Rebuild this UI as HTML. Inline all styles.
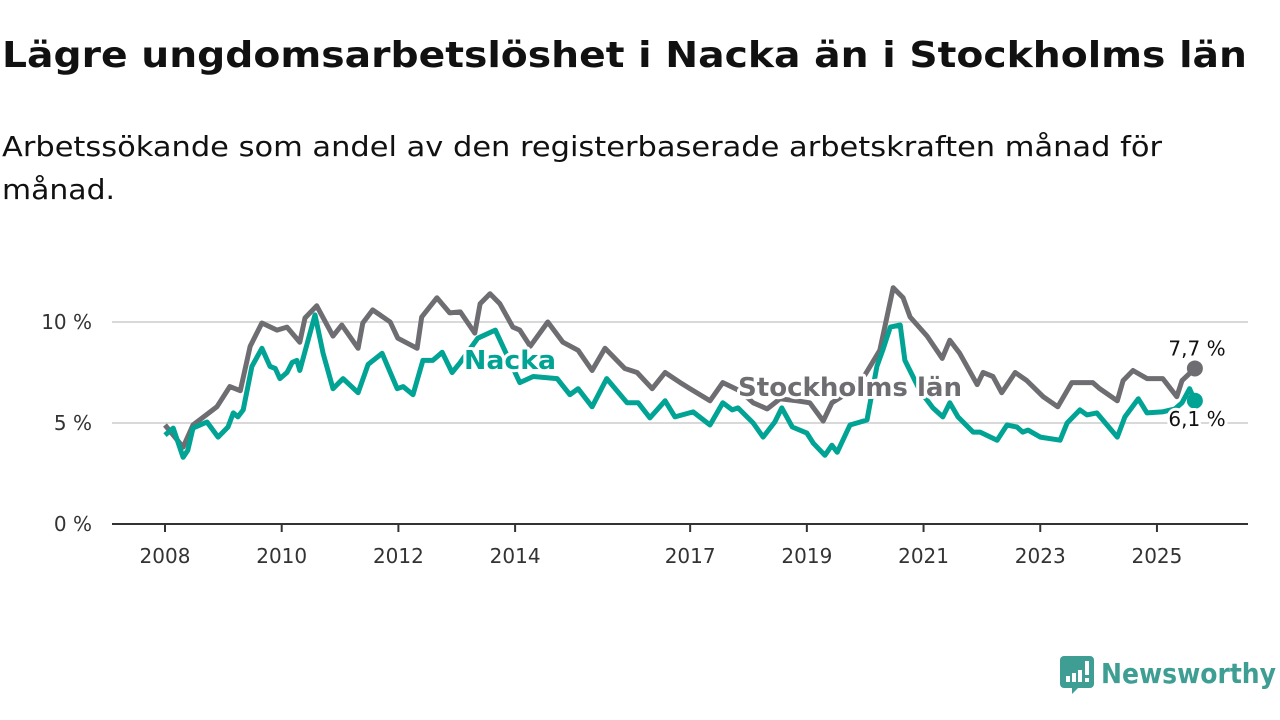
<!DOCTYPE html>
<html><head><meta charset="utf-8"><style>
html,body{margin:0;padding:0;background:#fff;}
svg{display:block;font-family:"DejaVu Sans","Liberation Sans",sans-serif;}
</style></head><body>
<svg id="chart" width="1280" height="720" viewBox="0 0 1280 720" xmlns="http://www.w3.org/2000/svg">
<text x="2" y="67" font-size="36" font-weight="bold" fill="#111" textLength="1245" lengthAdjust="spacingAndGlyphs">Lägre ungdomsarbetslöshet i Nacka än i Stockholms län</text>
<text x="2" y="156" font-size="28" fill="#111" textLength="1160" lengthAdjust="spacingAndGlyphs">Arbetssökande som andel av den registerbaserade arbetskraften månad för</text>
<text x="2" y="199" font-size="28" fill="#111" textLength="113" lengthAdjust="spacingAndGlyphs">månad.</text>
<g id="grid"></g>
<g id="xaxis"></g>
<g id="lines"></g>
<g>
<path d="M1064 656h26a4 4 0 0 1 4 4v24a4 4 0 0 1-4 4h-12l-6 6v-6h-8a4 4 0 0 1-4-4v-24a4 4 0 0 1 4-4z" fill="#3f9e94"/>
<rect x="1066" y="676" width="4" height="6" fill="#fff"/><rect x="1072" y="673" width="4" height="9" fill="#fff"/><rect x="1078" y="670" width="4" height="12" fill="#fff"/><rect x="1085" y="661" width="4" height="14" fill="#fff"/><rect x="1085" y="678" width="4" height="4" fill="#fff"/>
<text x="1101" y="683" font-size="28" font-weight="bold" fill="#3f9e94" textLength="175" lengthAdjust="spacingAndGlyphs">Newsworthy</text>
</g>
</svg>
<script>
const stockholmTimes=[2008.0,2008.31,2008.48,2008.89,2009.11,2009.29,2009.46,2009.66,2009.92,2010.09,2010.31,2010.40,2010.60,2010.88,2011.03,2011.31,2011.39,2011.56,2011.86,2011.99,2012.32,2012.40,2012.66,2012.88,2013.06,2013.31,2013.40,2013.57,2013.74,2013.96,2014.08,2014.26,2014.56,2014.82,2015.08,2015.32,2015.54,2015.88,2016.09,2016.35,2016.57,2016.83,2017.00,2017.34,2017.56,2017.85,2018.08,2018.32,2018.54,2018.83,2019.05,2019.28,2019.43,2019.65,2020.0,2020.25,2020.48,2020.65,2020.77,2021.06,2021.32,2021.45,2021.62,2021.92,2022.02,2022.19,2022.34,2022.57,2022.77,2023.05,2023.30,2023.54,2023.90,2024.02,2024.32,2024.42,2024.59,2024.83,2025.10,2025.34,2025.43,2025.65];
const stockholmValues=[4.9,3.8,4.9,5.8,6.8,6.6,8.8,9.95,9.6,9.75,9.0,10.2,10.8,9.3,9.85,8.7,9.95,10.6,10.0,9.2,8.7,10.25,11.2,10.45,10.5,9.45,10.9,11.4,10.9,9.75,9.6,8.8,10.0,9.0,8.6,7.6,8.7,7.7,7.5,6.7,7.5,7.0,6.7,6.1,7.0,6.6,6.0,5.7,6.2,6.1,6.0,5.1,6.0,6.4,7.4,8.6,11.7,11.2,10.25,9.3,8.2,9.1,8.45,6.9,7.5,7.3,6.5,7.5,7.1,6.3,5.8,7.0,7.0,6.7,6.1,7.1,7.6,7.2,7.2,6.3,7.1,7.7];
const nackaTimes=[2008.0,2008.14,2008.31,2008.39,2008.48,2008.72,2008.91,2009.08,2009.17,2009.25,2009.34,2009.49,2009.66,2009.80,2009.89,2009.97,2010.09,2010.18,2010.26,2010.31,2010.57,2010.71,2010.88,2011.05,2011.31,2011.48,2011.72,2011.98,2012.08,2012.25,2012.42,2012.59,2012.75,2012.92,2013.06,2013.36,2013.66,2013.79,2014.08,2014.31,2014.72,2014.94,2015.08,2015.32,2015.57,2015.92,2016.11,2016.31,2016.57,2016.74,2017.05,2017.34,2017.56,2017.72,2017.82,2018.08,2018.25,2018.45,2018.57,2018.75,2019.00,2019.11,2019.31,2019.43,2019.52,2019.74,2020.03,2020.20,2020.30,2020.43,2020.60,2020.68,2020.94,2021.16,2021.33,2021.45,2021.59,2021.85,2021.97,2022.26,2022.43,2022.60,2022.70,2022.79,2023.00,2023.34,2023.46,2023.68,2023.80,2023.97,2024.32,2024.45,2024.68,2024.83,2025.09,2025.31,2025.43,2025.56,2025.65];
const nackaValues=[4.4,4.75,3.3,3.65,4.75,5.05,4.3,4.8,5.5,5.3,5.65,7.8,8.7,7.8,7.7,7.2,7.5,8.0,8.1,7.6,10.35,8.45,6.7,7.2,6.5,7.9,8.45,6.7,6.8,6.4,8.1,8.1,8.5,7.5,8.0,9.2,9.6,8.8,7.0,7.3,7.2,6.4,6.7,5.8,7.2,6.0,6.0,5.25,6.1,5.3,5.55,4.9,6.0,5.65,5.75,5.0,4.3,5.05,5.75,4.8,4.5,4.0,3.4,3.9,3.55,4.9,5.15,7.8,8.6,9.75,9.85,8.1,6.6,5.75,5.3,6.0,5.3,4.55,4.55,4.15,4.9,4.8,4.55,4.65,4.3,4.15,5.0,5.65,5.4,5.5,4.3,5.3,6.2,5.5,5.55,5.7,6.0,6.7,6.1];
const yTicks=[0,5,10];
const yTickLabels=["0 %","5 %","10 %"];
const xTicks=[2008,2010,2012,2014,2017,2019,2021,2023,2025];
const endLabels=["7,7 %","6,1 %"];

const NS="http://www.w3.org/2000/svg";
const X=t=>165+(t-2008)*58.35;
const Y=v=>524-v*20.2;
function mk(tag,attrs,parent){const e=document.createElementNS(NS,tag);for(const k in attrs)e.setAttribute(k,attrs[k]);parent.appendChild(e);return e;}
const grid=document.getElementById('grid'),xa=document.getElementById('xaxis'),lines=document.getElementById('lines');
yTicks.forEach((v,i)=>{
  if(v>0){const l=mk('line',{x1:112,x2:1248,y1:Y(v),y2:Y(v),stroke:'#d9d9d9','stroke-width':2},grid);
  
  }
  const t=mk('text',{x:92,y:Y(v)+7,'font-size':20,fill:'#333','text-anchor':'end'},grid);
  
  
  t.textContent=yTickLabels[i];
});
const ax=mk('line',{x1:112,x2:1248,y1:524,y2:524,stroke:'#333','stroke-width':2},xa);


xTicks.forEach(yr=>{
  const tk=mk('line',{x1:X(yr),x2:X(yr),y1:524,y2:532,stroke:'#333','stroke-width':2},xa);
  
  
  const t=mk('text',{x:X(yr),y:563,'font-size':20,fill:'#333','text-anchor':'middle'},xa);
  
  
  t.textContent=yr;
});
function pts(ts,vs){return ts.map((t,i)=>X(t).toFixed(1)+','+Y(vs[i]).toFixed(1)).join(' ');}
const gs=mk('polyline',{points:pts(stockholmTimes,stockholmValues),fill:'none',stroke:'#6e6d72','stroke-width':5,'stroke-linejoin':'round'},lines);


const ns=mk('polyline',{points:pts(nackaTimes,nackaValues),fill:'none',stroke:'#00a394','stroke-width':5,'stroke-linejoin':'round'},lines);


const sl=stockholmTimes.length-1,nl=nackaTimes.length-1;
const d1=mk('circle',{cx:X(stockholmTimes[sl]),cy:Y(stockholmValues[sl]),r:8,fill:'#6e6d72'},lines);


const d2=mk('circle',{cx:X(nackaTimes[nl]),cy:Y(nackaValues[nl]),r:8,fill:'#00a394'},lines);


const halo={stroke:'#fff','stroke-width':6,'paint-order':'stroke','stroke-linejoin':'round'};
const l1=mk('text',Object.assign({x:1197,y:Y(stockholmValues[sl])-13,'font-size':20,fill:'#111','text-anchor':'middle'},halo),lines);


l1.textContent=endLabels[0];
const l2=mk('text',Object.assign({x:1197,y:Y(nackaValues[nl])+25,'font-size':20,fill:'#111','text-anchor':'middle'},halo),lines);


l2.textContent=endLabels[1];
const s1=mk('text',Object.assign({x:738,y:396,'font-size':26,'font-weight':'bold',fill:'#6e6d72',textLength:224,lengthAdjust:'spacingAndGlyphs'},halo),lines);


s1.textContent='Stockholms län';
const s2=mk('text',Object.assign({x:464,y:369,'font-size':26,'font-weight':'bold',fill:'#00a394',textLength:92,lengthAdjust:'spacingAndGlyphs'},halo),lines);


s2.textContent='Nacka';
</script>
</body></html>
